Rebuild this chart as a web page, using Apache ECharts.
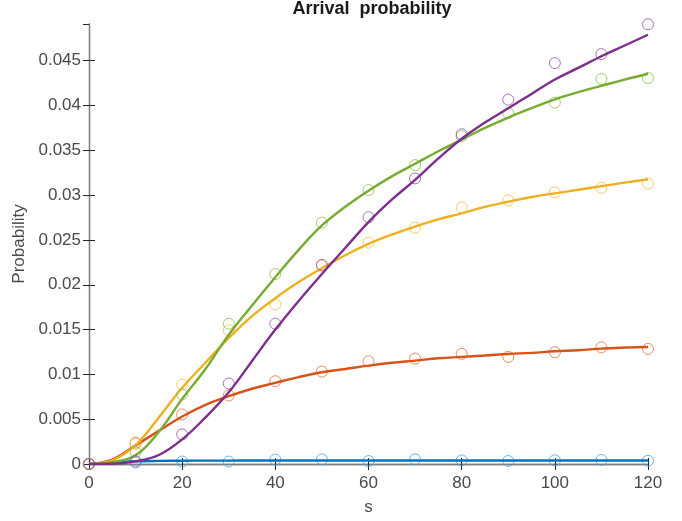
<!DOCTYPE html>
<html>
<head>
<meta charset="utf-8">
<script src="https://cdn.jsdelivr.net/npm/echarts@6/dist/echarts.min.js"></script>
<style>
  html, body { margin: 0; padding: 0; background: #fff; }
  #chart { width: 682px; height: 521px; }
</style>
</head>
<body>
<div id="chart"></div>
<script>
// Sample times (s) for the measured points
const xSamples = [0, 10, 20, 30, 40, 50, 60, 70, 80, 90, 100, 110, 120];
// Measured arrival probabilities
const blueSamples   = [0, 0.00016, 0.00027, 0.00027, 0.00049, 0.00052, 0.00033, 0.00052, 0.00041, 0.00033, 0.00041, 0.00045, 0.00037];
const orangeSamples = [0, 0.00238, 0.00553, 0.00765, 0.00924, 0.01032, 0.01146, 0.01176, 0.01229, 0.01195, 0.01247, 0.01302, 0.01284];
const yellowSamples = [0, 0.00225, 0.00887, 0.01491, 0.01781, 0.0221, 0.0247, 0.02637, 0.02864, 0.02942, 0.03031, 0.03082, 0.03131];
const greenSamples  = [0, 0.00134, 0.00776, 0.01566, 0.0212, 0.02693, 0.03057, 0.03335, 0.03658, 0.03917, 0.04033, 0.04296, 0.04307];
const purpleSamples = [0, 0.0003, 0.0033, 0.00898, 0.01566, 0.02222, 0.02753, 0.03187, 0.0368, 0.04066, 0.04474, 0.04574, 0.04907];

// Fitted curves, sampled every 5 s
const xFit = [0, 5, 10, 15, 20, 25, 30, 35, 40, 45, 50, 55, 60, 65, 70, 75, 80, 85, 90, 95, 100, 105, 110, 115, 120];
const blueFit   = [0, 0.00015, 0.0003, 0.00035, 0.00037, 0.00038, 0.00038, 0.00039, 0.00039, 0.00039, 0.00039, 0.00039, 0.00039,
                   0.00039, 0.00039, 0.00039, 0.00039, 0.00039, 0.00039, 0.00039, 0.00039, 0.00039, 0.00039, 0.00039, 0.00039];
const orangeFit = [0, 0.0005, 0.00208, 0.0037, 0.0053, 0.0066, 0.00757, 0.0084, 0.00906, 0.0097, 0.01024, 0.0106, 0.01098,
                   0.0113, 0.01154, 0.0118, 0.01195, 0.0121, 0.01228, 0.0124, 0.01258, 0.0127, 0.01287, 0.0130, 0.01306];
const yellowFit = [0, 0.0004, 0.0021, 0.0052, 0.0085, 0.0113, 0.01406, 0.0165, 0.0185, 0.0203, 0.02185, 0.0233, 0.02456,
                   0.0256, 0.0265, 0.0273, 0.02797, 0.0287, 0.02927, 0.0298, 0.0302, 0.0306, 0.03101, 0.0314, 0.03176];
const greenFit  = [0, 0.0002, 0.00097, 0.0036, 0.00727, 0.0106, 0.01443, 0.0177, 0.02085, 0.0239, 0.02662, 0.0287, 0.0305,
                   0.0321, 0.0335, 0.0349, 0.0362, 0.0375, 0.03866, 0.0397, 0.0407, 0.0415, 0.0422, 0.0429, 0.04355];
const purpleFit = [0, 0.00002, 0.0003, 0.001, 0.00275, 0.0052, 0.008, 0.0115, 0.015, 0.0182, 0.0212, 0.0241, 0.027,
                   0.0295, 0.0317, 0.0341, 0.0363, 0.0381, 0.0397, 0.0413, 0.0429, 0.0442, 0.0455, 0.0467, 0.0479];

const xTicks = [0, 20, 40, 60, 80, 100, 120];
const yTickLabels = ['0', '0.005', '0.01', '0.015', '0.02', '0.025', '0.03', '0.035', '0.04', '0.045'];

const FONT = '"Liberation Sans", Arial, Helvetica, sans-serif';
const groups = [
  { line: '#0072BD', mark: '#4DA3DD', fit: blueFit,   pts: blueSamples },
  { line: '#D95319', mark: '#E5703D', fit: orangeFit, pts: orangeSamples },
  { line: '#EDB120', mark: '#F2BE4A', fit: yellowFit, pts: yellowSamples },
  { line: '#77AC30', mark: '#8FBF52', fit: greenFit,  pts: greenSamples },
  { line: '#7E2F8E', mark: '#9550A5', fit: purpleFit, pts: purpleSamples }
];

const series = [];
groups.forEach((g, i) => {
  series.push({
    type: 'scatter',
    data: xSamples.map((x, k) => [x, g.pts[k]]),
    symbol: 'circle',
    symbolSize: 11,
    itemStyle: { color: 'rgba(0,0,0,0)', borderColor: g.mark, borderWidth: 1 },
    z: 2 + i * 2,
    silent: true
  });
  series.push({
    type: 'line',
    data: xFit.map((x, k) => [x, g.fit[k]]),
    showSymbol: false,
    smooth: 0.4,
    lineStyle: { color: g.line, width: 2.4 },
    z: 3 + i * 2,
    silent: true
  });
});

const axisLineStyle = { color: '#808080', width: 1.3 };
const tickStyle = { color: '#262626', width: 1 };
const labelColor = '#4a4a4a';

const chart = echarts.init(document.getElementById('chart'), null, { renderer: 'canvas' });
chart.setOption({
  animation: false,
  backgroundColor: '#fff',
  grid: { left: 89, right: 34, top: 24, bottom: 56, containLabel: false },
  graphic: [{
    type: 'text',
    x: 372, y: 0,
    style: {
      text: 'Arrival  probability',
      font: 'bold 18px ' + FONT,
      fill: '#1a1a1a',
      align: 'center',
      verticalAlign: 'top'
    }
  }],
  xAxis: [{
    type: 'value', min: 0, max: 120, interval: 20,
    name: 's', nameLocation: 'middle', nameGap: 35,
    nameTextStyle: { fontFamily: FONT, fontSize: 17, color: labelColor },
    axisLine: { show: true, lineStyle: axisLineStyle },
    axisTick: { show: true, inside: true, length: 6, lineStyle: tickStyle },
    axisLabel: {
      fontFamily: FONT, fontSize: 17, color: labelColor, margin: 11,
      formatter: v => xTicks.includes(v) ? String(v) : ''
    },
    splitLine: { show: false }
  }, {
    type: 'value', min: 0, max: 120, interval: 20, position: 'top',
    axisLine: { show: true, lineStyle: axisLineStyle },
    axisTick: { show: true, inside: true, length: 6, lineStyle: tickStyle },
    axisLabel: { show: false },
    splitLine: { show: false }
  }],
  yAxis: [{
    type: 'value', min: 0, max: 0.0491, interval: 0.005,
    name: 'Probability', nameLocation: 'middle', nameGap: 57, nameRotate: 90,
    nameTextStyle: { fontFamily: FONT, fontSize: 17, color: labelColor },
    axisLine: { show: true, lineStyle: axisLineStyle },
    axisTick: { show: true, inside: true, length: 6, lineStyle: tickStyle },
    axisLabel: {
      fontFamily: FONT, fontSize: 17, color: labelColor, margin: 8,
      showMaxLabel: false,
      formatter: v => {
        const k = Math.round(v / 0.005);
        return Math.abs(v - k * 0.005) < 1e-9 && k < yTickLabels.length ? yTickLabels[k] : '';
      }
    },
    splitLine: { show: false }
  }, {
    type: 'value', min: 0, max: 0.0491, interval: 0.005, position: 'right',
    axisLine: { show: true, lineStyle: axisLineStyle },
    axisTick: { show: true, inside: true, length: 6, lineStyle: tickStyle },
    axisLabel: { show: false },
    splitLine: { show: false }
  }],
  series: series
});
</script>
</body>
</html>
